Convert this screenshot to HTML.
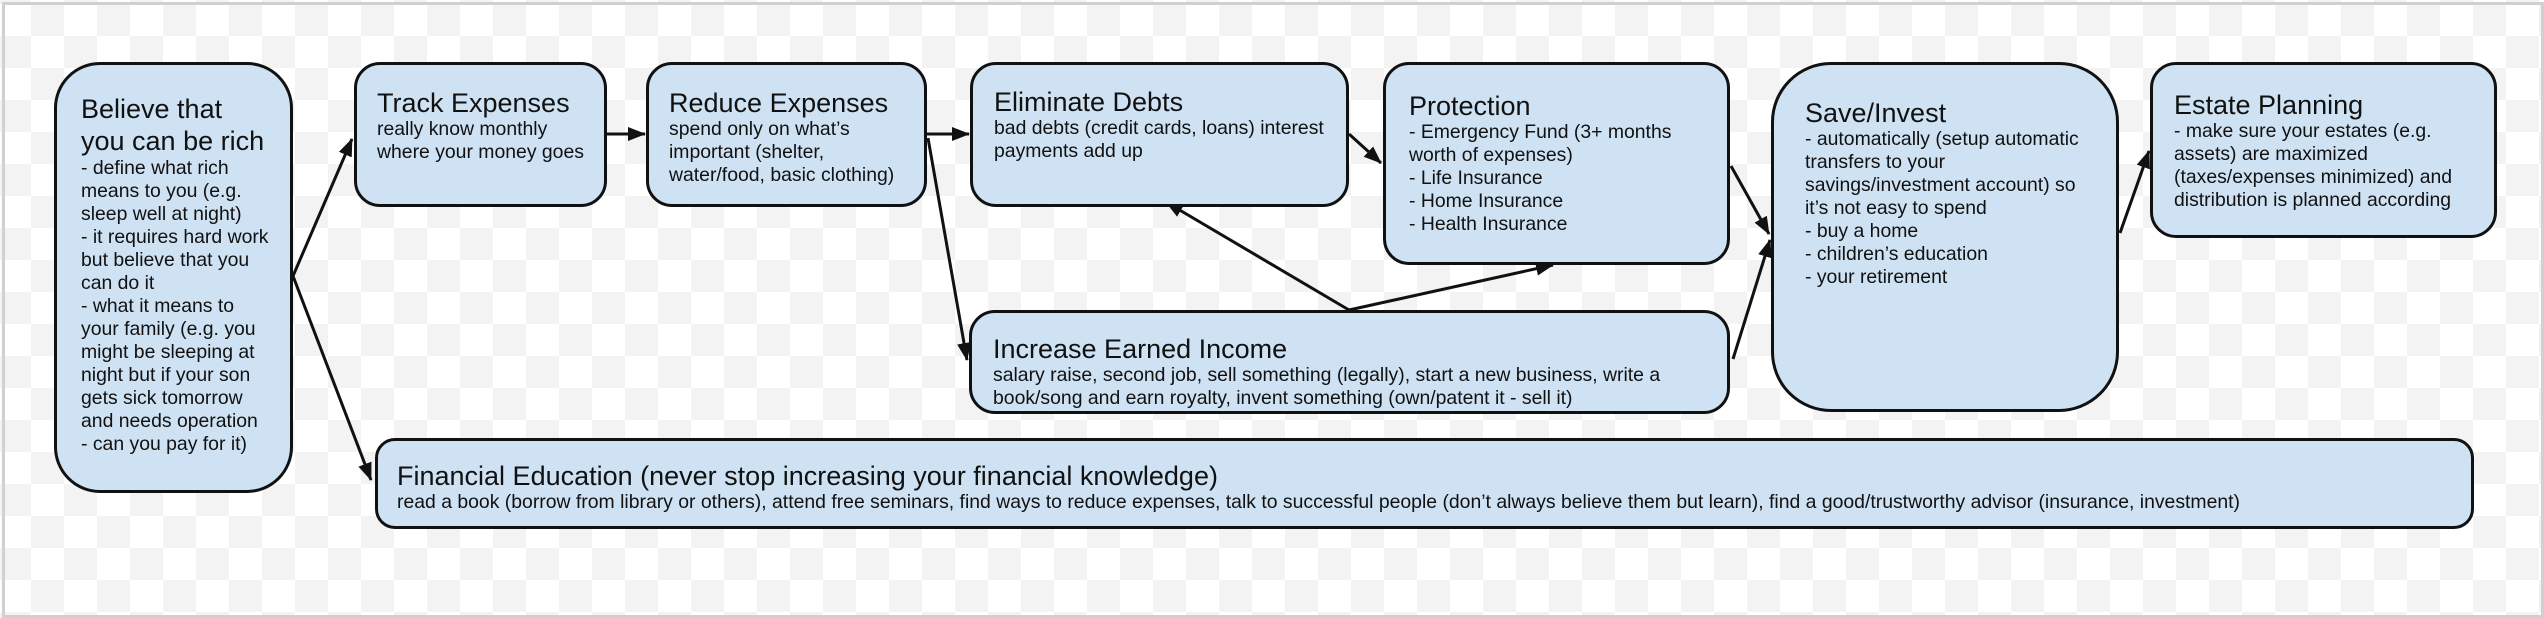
<!DOCTYPE html>
<html><head><meta charset="utf-8"><style>
html,body{margin:0;padding:0}
body{width:2544px;height:618px;position:relative;overflow:hidden;font-family:"Liberation Sans",Arial,sans-serif;color:#111;
background-color:#fff;background-image:conic-gradient(#f3f3f3 25%,#fff 0 50%,#f3f3f3 0 75%,#fff 0);background-size:66px 64px;background-position:-2px 4px}
.frame{position:absolute;left:2px;top:2px;width:2536px;height:610px;border:3px solid #d0d0d0}
.b{position:absolute;box-sizing:border-box;background:#cfe2f3;border:3px solid #111;border-radius:26px;}
.t{font-size:27px;line-height:30px;white-space:nowrap}
.d{font-size:19.4px;line-height:23px;white-space:nowrap}
svg{position:absolute;left:0;top:0}
</style></head><body>
<div class="frame"></div>
<svg width="2544" height="618">
<defs><marker id="m" markerWidth="18" markerHeight="14" refX="17" refY="7" orient="auto" markerUnits="userSpaceOnUse"><path d="M0,0 L18,7 L0,14 z" fill="#111"/></marker></defs>
<g stroke="#111" stroke-width="3" fill="none" marker-end="url(#m)">
<line x1="293" y1="276" x2="352" y2="139"/>
<line x1="293" y1="276" x2="371" y2="480"/>
<line x1="606" y1="134" x2="645" y2="134"/>
<line x1="926" y1="134" x2="969" y2="134"/>
<line x1="928" y1="138" x2="967" y2="360"/>
<line x1="1349" y1="134" x2="1381" y2="163"/>
<line x1="1349" y1="310" x2="1166" y2="202"/>
<line x1="1349" y1="310" x2="1553" y2="265"/>
<line x1="1731" y1="166" x2="1769" y2="234"/>
<line x1="1733" y1="359" x2="1770" y2="240"/>
<line x1="2120" y1="233" x2="2149" y2="151"/>
</g></svg>
<div class="b" style="left:54px;top:62px;width:239px;height:431px;border-radius:46px;padding:28px 0 0 24px">
<div class="t" style="line-height:32px">Believe that<br>you can be rich</div>
<div class="d">- define what rich<br>means to you (e.g.<br>sleep well at night)<br>- it requires hard work<br>but believe that you<br>can do it<br>- what it means to<br>your family (e.g. you<br>might be sleeping at<br>night but if your son<br>gets sick tomorrow<br>and needs operation<br>- can you pay for it)</div></div>
<div class="b" style="left:354px;top:62px;width:253px;height:145px;padding:23px 0 0 20px">
<div class="t">Track Expenses</div><div class="d">really know monthly<br>where your money goes</div></div>
<div class="b" style="left:646px;top:62px;width:281px;height:145px;padding:23px 0 0 20px">
<div class="t">Reduce Expenses</div><div class="d">spend only on what’s<br>important (shelter,<br>water/food, basic clothing)</div></div>
<div class="b" style="left:970px;top:62px;width:379px;height:145px;padding:22px 0 0 21px">
<div class="t">Eliminate Debts</div><div class="d">bad debts (credit cards, loans) interest<br>payments add up</div></div>
<div class="b" style="left:1383px;top:62px;width:347px;height:203px;padding:26px 0 0 23px">
<div class="t">Protection</div><div class="d">- Emergency Fund (3+ months<br>worth of expenses)<br>- Life Insurance<br>- Home Insurance<br>- Health Insurance</div></div>
<div class="b" style="left:1771px;top:62px;width:348px;height:350px;border-radius:60px;padding:33px 0 0 31px">
<div class="t">Save/Invest</div><div class="d">- automatically (setup automatic<br>transfers to your<br>savings/investment account) so<br>it’s not easy to spend<br>- buy a home<br>- children’s education<br>- your retirement</div></div>
<div class="b" style="left:2150px;top:62px;width:347px;height:176px;padding:25px 0 0 21px">
<div class="t">Estate Planning</div><div class="d">- make sure your estates (e.g.<br>assets) are maximized<br>(taxes/expenses minimized) and<br>distribution is planned according</div></div>
<div class="b" style="left:969px;top:310px;width:761px;height:104px;padding:21px 0 0 21px">
<div class="t">Increase Earned Income</div><div class="d">salary raise, second job, sell something (legally), start a new business, write a<br>book/song and earn royalty, invent something (own/patent it - sell it)</div></div>
<div class="b" style="left:375px;top:438px;width:2099px;height:91px;border-radius:20px;padding:20px 0 0 19px">
<div class="t">Financial Education (never stop increasing your financial knowledge)</div><div class="d">read a book (borrow from library or others), attend free seminars, find ways to reduce expenses, talk to successful people (don’t always believe them but learn), find a good/trustworthy advisor (insurance, investment)</div></div>
</body></html>
